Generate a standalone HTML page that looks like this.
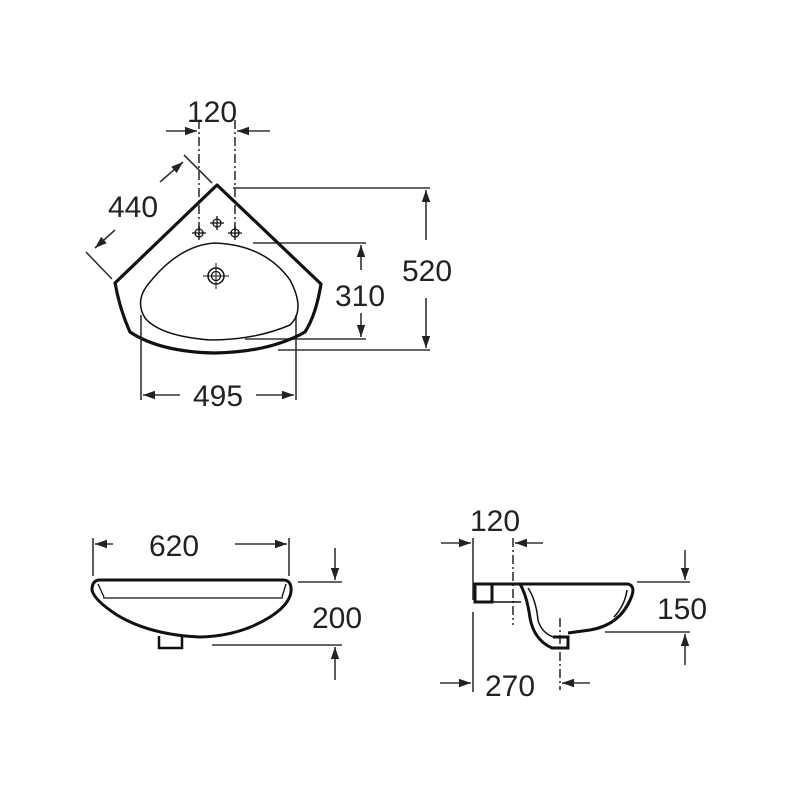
<!DOCTYPE html>
<html><head><style>
html,body{margin:0;padding:0;background:#fff;}
svg{display:block;}
text{font-family:"Liberation Sans",sans-serif;font-size:30px;fill:#222;text-anchor:middle;}
</style></head><body>
<svg width="800" height="800" viewBox="0 0 800 800" xmlns="http://www.w3.org/2000/svg">
<defs>
<marker id="a" viewBox="0 0 10 10" refX="10" refY="5" markerWidth="14" markerHeight="12" orient="auto" markerUnits="userSpaceOnUse">
<path d="M0,1.5 L10,5 L0,8.5 Z" fill="#222"/></marker>
</defs>
<g stroke="#333" stroke-width="1.6" fill="none">
<line x1="199" y1="120" x2="199" y2="235" stroke-dasharray="9,3,2,3"/>
<line x1="235" y1="120" x2="235" y2="235" stroke-dasharray="9,3,2,3"/>
<line x1="166" y1="131" x2="197" y2="131" marker-end="url(#a)"/>
<line x1="270" y1="131" x2="237" y2="131" marker-end="url(#a)"/>
<line x1="184" y1="155" x2="212" y2="183"/>
<line x1="86" y1="252" x2="112" y2="279"/>
<line x1="160" y1="182" x2="183" y2="162" marker-end="url(#a)"/>
<line x1="115" y1="230" x2="95" y2="248" marker-end="url(#a)"/>
<line x1="233" y1="188" x2="430" y2="188"/>
<line x1="278" y1="350" x2="430" y2="350"/>
<line x1="426" y1="240" x2="426" y2="190" marker-end="url(#a)"/>
<line x1="426" y1="298" x2="426" y2="348" marker-end="url(#a)"/>
<line x1="253" y1="243" x2="366" y2="243"/>
<line x1="245" y1="339" x2="366" y2="339"/>
<line x1="361" y1="270" x2="361" y2="245" marker-end="url(#a)"/>
<line x1="361" y1="313" x2="361" y2="337" marker-end="url(#a)"/>
<line x1="141" y1="315" x2="141" y2="400"/>
<line x1="296" y1="315" x2="296" y2="400"/>
<line x1="180" y1="395" x2="143" y2="395" marker-end="url(#a)"/>
<line x1="256" y1="395" x2="294" y2="395" marker-end="url(#a)"/>
<line x1="93" y1="538" x2="93" y2="576"/>
<line x1="289" y1="538" x2="289" y2="576"/>
<line x1="113" y1="544" x2="95" y2="544" marker-end="url(#a)"/>
<line x1="235" y1="544" x2="287" y2="544" marker-end="url(#a)"/>
<line x1="298" y1="582" x2="342" y2="582"/>
<line x1="212" y1="645" x2="342" y2="645"/>
<line x1="335" y1="548" x2="335" y2="580" marker-end="url(#a)"/>
<line x1="335" y1="680" x2="335" y2="647" marker-end="url(#a)"/>
<line x1="473" y1="538" x2="473" y2="600"/>
<line x1="473" y1="612" x2="473" y2="692"/>
<line x1="513" y1="538" x2="513" y2="625" stroke-dasharray="9,3,2,3"/>
<line x1="560" y1="618" x2="560" y2="690" stroke-dasharray="9,3,2,3"/>
<line x1="441" y1="543" x2="471" y2="543" marker-end="url(#a)"/>
<line x1="543" y1="543" x2="515" y2="543" marker-end="url(#a)"/>
<line x1="637" y1="582" x2="690" y2="582"/>
<line x1="605" y1="632" x2="690" y2="632"/>
<line x1="685" y1="550" x2="685" y2="580" marker-end="url(#a)"/>
<line x1="685" y1="665" x2="685" y2="634" marker-end="url(#a)"/>
<line x1="440" y1="683" x2="471" y2="683" marker-end="url(#a)"/>
<line x1="590" y1="683" x2="562" y2="683" marker-end="url(#a)"/>
</g>
<g stroke="#111" fill="none">
<path d="M217,185 L321,284 Q316,315 305,332 Q270,352 215,353 Q160,352 130,332 Q120,310 115,283 Z" stroke-width="3.2" stroke-linejoin="round"/>
<path d="M215,243 Q265,245 290,280 Q306,310 290,325 Q255,340 210,340 Q160,336 145,318 Q134,300 150,282 Q180,245 215,243 Z" stroke-width="1.5"/>
<circle cx="216" cy="276" r="8" stroke-width="1.5"/>
<circle cx="216" cy="276" r="4.5" stroke-width="1.3"/>
<path d="M216,263 V289 M203,276 H229" stroke-width="1"/>
<g stroke-width="1.3">
<circle cx="199" cy="233" r="4"/><path d="M192,233 H206 M199,226 V240"/>
<circle cx="217" cy="223" r="4"/><path d="M210,223 H224 M217,216 V230"/>
<circle cx="235" cy="233" r="4"/><path d="M228,233 H242 M235,226 V240"/>
</g>
<path d="M100,580 H283 Q292,580 291,592 Q289,605 270,617 Q240,636 200,637 Q150,635 117,615 Q94,600 92,590 Q92,580 100,580 Z" stroke-width="3" stroke-linejoin="round"/>
<path d="M103,598 H283 M98,584 L104,597 M286,584 L282,597" stroke-width="1.3"/>
<path d="M159,636 V648 H182 V636" stroke-width="2.5"/>
<path d="M475,584 H628 Q636,586 631,598 Q620,625 590,630 L568,633" stroke-width="3"/>
<path d="M627,590 Q625,605 614,617" stroke-width="1.5"/>
<rect x="475" y="584" width="17" height="18" stroke-width="3"/>
<path d="M475,602 H521" stroke-width="1.5"/>
<path d="M520,584 Q527,596 530,618 Q534,640 552,648 H568 V637 H553" stroke-width="3"/>
<path d="M528,588 Q536,600 538,620 Q541,632 553,637" stroke-width="1.5"/>
</g>
<text x="212" y="122">120</text>
<text x="133" y="217">440</text>
<text x="427" y="281">520</text>
<text x="360" y="306">310</text>
<text x="218" y="406">495</text>
<text x="174" y="556">620</text>
<text x="337" y="628">200</text>
<text x="495" y="531">120</text>
<text x="682" y="619">150</text>
<text x="510" y="696">270</text>
</svg>
</body></html>
